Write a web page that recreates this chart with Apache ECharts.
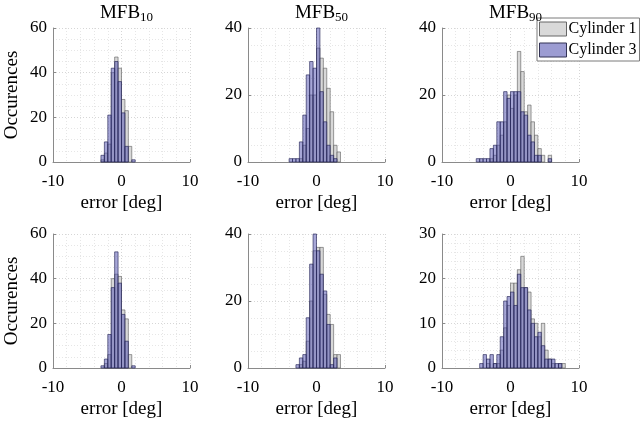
<!DOCTYPE html>
<html><head><meta charset="utf-8">
<script src="https://cdn.jsdelivr.net/npm/echarts@6/dist/echarts.min.js"></script>
<style>html,body{margin:0;padding:0;background:#fff}#c{width:641px;height:421px}</style>
</head><body><div id="c"></div>
<script>
const seriesNames = ['Cylinder 1', 'Cylinder 3'];
const titleSubs = ['10', '50', '90'];
const xLabel = 'error [deg]';
const yLabel = 'Occurences';
const yMax = [60, 40, 40, 60, 40, 30];
const yStep = [20, 20, 20, 20, 20, 10];
const yMinorSplit = [4, 4, 4, 4, 4, 5];

// bin edges (deg) for each panel
const edges1 = [-3,-2.5,-2,-1.5,-1,-0.5,0,0.5,1,1.5,2];
const edges2 = [-4,-3.5,-3,-2.5,-2,-1.5,-1,-0.5,0,0.5,1,1.5,2,2.5,3,3.5];
const edges3 = [-5,-4.5,-4,-3.5,-3,-2.5,-2,-1.5,-1,-0.5,0,0.5,1,1.5,2,2.5,3,3.5,4,4.5,5,5.5,6];
const edges4 = [-3,-2.5,-2,-1.5,-1,-0.5,0,0.5,1,1.5,2];
const edges5 = [-3,-2.5,-2,-1.5,-1,-0.5,0,0.5,1,1.5,2,2.5,3,3.5];
const edges6 = [-4.5,-4,-3.5,-3,-2.5,-2,-1.5,-1,-0.5,0,0.5,1,1.5,2,2.5,3,3.5,4,4.5,5,5.5,6,6.5,7,7.5,8];

// counts, Cylinder 1
const cyl1P1 = [1,4,8,40,47,42,28,23,7,0];
const cyl1P2 = [0,0,0,1,5,10,20,20,34,31,28,22,15,5,3];
const cyl1P3 = [0,0,0,0,1,2,5,8,12,20,16,20,33,27,15,17,12,8,4,2,0,2];
const cyl1P4 = [0,2,6,40,42,41,26,22,6,0];
const cyl1P5 = [0,1,2,8,20,35,36,36,22,16,13,4,4];
const cyl1P6 = [0,0,1,0,1,1,4,9,14,19,19,22,25,18,17,11,10,7,10,4,2,1,0,1,1];
// counts, Cylinder 3
const cyl3P1 = [3,9,21,42,45,36,22,7,0,1];
const cyl3P2 = [1,1,1,6,14,26,30,28,40,21,12,5,2,1,0];
const cyl3P3 = [1,1,1,1,4,5,12,12,21,19,21,21,21,15,14,8,6,2,2,0,0,1];
const cyl3P4 = [1,4,15,36,52,38,24,12,0,1];
const cyl3P5 = [1,3,4,15,31,40,35,28,23,13,1,3,0];
const cyl3P6 = [1,3,2,3,1,3,7,15,16,17,14,21,18,18,13,10,7,8,5,2,2,2,1,1,0];

const edges = [edges1, edges2, edges3, edges4, edges5, edges6];
const cyl1 = [cyl1P1, cyl1P2, cyl1P3, cyl1P4, cyl1P5, cyl1P6];
const cyl3 = [cyl3P1, cyl3P2, cyl3P3, cyl3P4, cyl3P5, cyl3P6];

const FONT = 'Liberation Serif';
const colLeft = [53, 248, 442];
const rowTop = [28, 234];
const W = 137, H = 134;

const styles = [
  { fill: 'rgba(212,212,212,0.9)', stroke: 'rgba(80,80,80,0.7)' },
  { fill: 'rgba(80,80,175,0.5)', stroke: 'rgba(35,35,85,0.8)' }
];

function makeData(e, c) {
  const d = [];
  for (let i = 0; i < c.length; i++) d.push([e[i], e[i + 1], c[i]]);
  return d;
}

function renderItem(params, api) {
  const v = api.value(2);
  if (!v) return null;
  const p0 = api.coord([api.value(0), v]);
  const p1 = api.coord([api.value(1), 0]);
  const s = styles[params.seriesIndex % 2];
  return {
    type: 'rect',
    shape: { x: p0[0], y: p0[1], width: p1[0] - p0[0], height: p1[1] - p0[1] },
    style: { fill: s.fill, stroke: s.stroke, lineWidth: 0.8 }
  };
}

const axisCommon = {
  axisLine: { show: true, onZero: false, lineStyle: { color: '#8a8a8a', width: 1 } },
  axisTick: { show: true, inside: true, length: 3, lineStyle: { color: '#8a8a8a' } },
  splitLine: { show: true, lineStyle: { color: '#d6d6d6', type: [1, 2], width: 1 } },
  minorSplitLine: { show: true, lineStyle: { color: '#e6e6e6', type: [1, 2], width: 1 } }
};

const grids = [], xAxes = [], yAxes = [], series = [], titles = [];
for (let k = 0; k < 6; k++) {
  const r = Math.floor(k / 3), c = k % 3;
  grids.push({ left: colLeft[c], top: rowTop[r], width: W, height: H, containLabel: false });
  xAxes.push(Object.assign({}, axisCommon, {
    gridIndex: k, type: 'value', min: -10, max: 10, interval: 10,
    name: xLabel, nameLocation: 'middle', nameGap: 32,
    nameTextStyle: { fontFamily: FONT, fontSize: 19, color: '#000' },
    axisLabel: { fontFamily: FONT, fontSize: 17, color: '#000', margin: 11 },
    minorTick: { show: false, splitNumber: 5 }
  }));
  yAxes.push(Object.assign({}, axisCommon, {
    gridIndex: k, type: 'value', min: 0, max: yMax[k], interval: yStep[k],
    name: c === 0 ? yLabel : '', nameLocation: 'middle', nameGap: 31, nameRotate: 90,
    nameTextStyle: { fontFamily: FONT, fontSize: 19, color: '#000' },
    axisLabel: { fontFamily: FONT, fontSize: 17, color: '#000', margin: 6 },
    minorTick: { show: false, splitNumber: yMinorSplit[k] }
  }));
  [cyl1, cyl3].forEach((arr, j) => {
    series.push({
      type: 'custom', name: seriesNames[j], xAxisIndex: k, yAxisIndex: k,
      renderItem: renderItem, encode: { x: [0, 1], y: 2 },
      data: makeData(edges[k], arr[k]), z: 2 + j, silent: true
    });
  });
  if (r === 0) {
    titles.push({
      text: 'MFB{s|' + titleSubs[c] + '}',
      left: colLeft[c] + W / 2, top: -3, textAlign: 'center',
      textStyle: { fontFamily: FONT, fontSize: 19, fontWeight: 'normal', color: '#000',
        rich: { s: { fontFamily: FONT, fontSize: 13, verticalAlign: 'bottom', padding: [9, 0, 0, 0], color: '#000' } } }
    });
  }
}

const chart = echarts.init(document.getElementById('c'), null, { renderer: 'canvas' });
chart.setOption({
  animation: false,
  backgroundColor: '#fff',
  title: titles,
  grid: grids, xAxis: xAxes, yAxis: yAxes, series: series,
  legend: {
    orient: 'vertical', left: 537, top: 18, itemWidth: 27, itemHeight: 14, itemGap: 5,
    padding: [3, 3, 3, 2], backgroundColor: '#fff', borderColor: '#7a7a7a', borderWidth: 1,
    textStyle: { fontFamily: FONT, fontSize: 16, color: '#000', padding: [0, 0, 0, -3] },
    data: [
      { name: seriesNames[0], icon: 'rect', itemStyle: { color: '#d9d9d9', borderColor: '#666', borderWidth: 1 } },
      { name: seriesNames[1], icon: 'rect', itemStyle: { color: '#9c9cd2', borderColor: '#333355', borderWidth: 1 } }
    ]
  }
});
</script></body></html>
